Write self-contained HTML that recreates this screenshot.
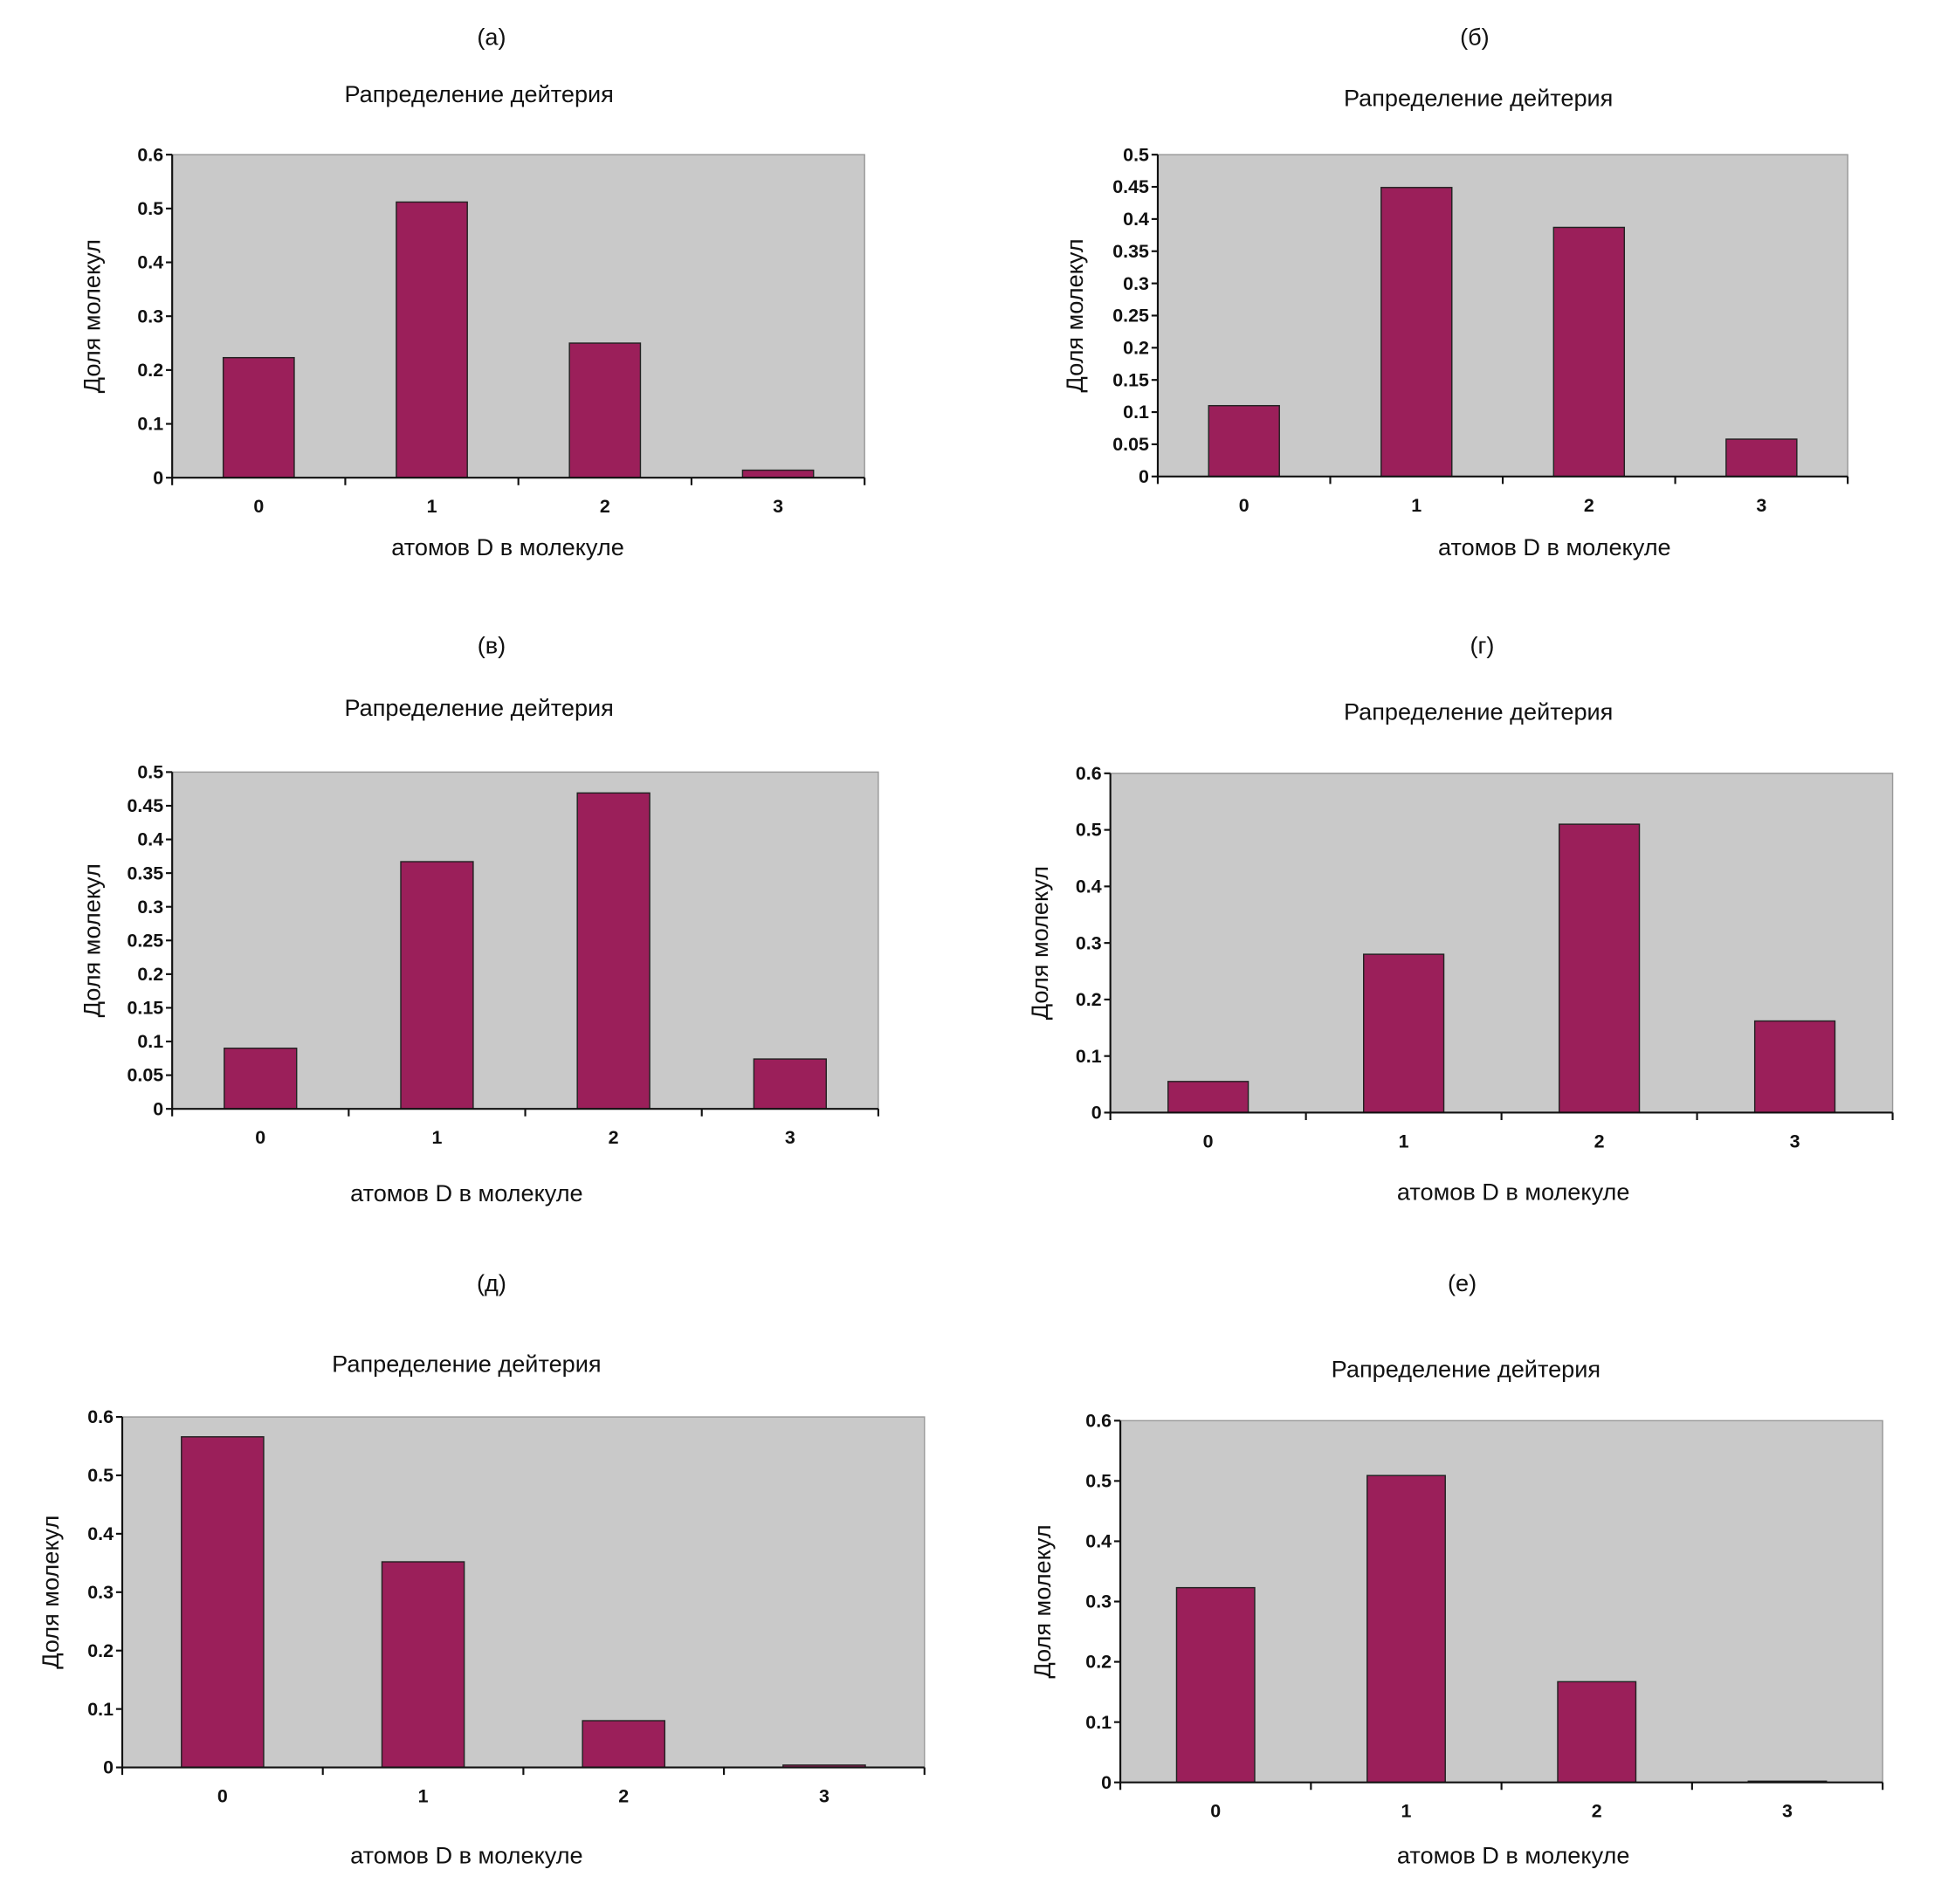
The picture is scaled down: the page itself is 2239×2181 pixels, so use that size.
<!DOCTYPE html>
<html><head><meta charset="utf-8"><style>
html,body{margin:0;padding:0;background:#fff;}
svg{display:block;}
text{font-family:"Liberation Sans",sans-serif;fill:#111;}
.tick{font-size:15px;font-weight:bold;}
.ttl{font-size:19px;}
.lbl{font-size:19px;}
</style></head><body>
<svg id="fig" width="2239" height="2181" viewBox="0 0 1567 1526.5" preserveAspectRatio="none"></svg>
<script>
const categories = ["0","1","2","3"];
const valuesA = [0.223, 0.512, 0.25, 0.014];
const valuesB = [0.11, 0.449, 0.387, 0.058];
const valuesV = [0.09, 0.367, 0.469, 0.074];
const valuesG = [0.055, 0.28, 0.51, 0.162];
const valuesD = [0.566, 0.352, 0.08, 0.004];
const valuesE = [0.323, 0.509, 0.167, 0.002];
const ticks6 = ["0","0.1","0.2","0.3","0.4","0.5","0.6"];
const ticks5 = ["0","0.05","0.1","0.15","0.2","0.25","0.3","0.35","0.4","0.45","0.5"];

const panels = [
 {id:"a",label:"(а)",lx:394,ly:29,tx:384,ty:76,x0:138,x1:693,y0:124,y1:383,vals:valuesA,ticks:ticks6,max:0.6,xlx:407,xly:438,ylx:73},
 {id:"b",label:"(б)",lx:1182,ly:29,tx:1185,ty:79,x0:928,x1:1481,y0:124,y1:382,vals:valuesB,ticks:ticks5,max:0.5,xlx:1246,xly:438,ylx:861},
 {id:"v",label:"(в)",lx:394,ly:517,tx:384,ty:568,x0:138,x1:704,y0:619,y1:889,vals:valuesV,ticks:ticks5,max:0.5,xlx:374,xly:956,ylx:73},
 {id:"g",label:"(г)",lx:1188,ly:517,tx:1185,ty:571,x0:890,x1:1517,y0:620,y1:892,vals:valuesG,ticks:ticks6,max:0.6,xlx:1213,xly:955,ylx:833},
 {id:"d",label:"(д)",lx:394,ly:1028,tx:374,ty:1094,x0:98,x1:741,y0:1136,y1:1417,vals:valuesD,ticks:ticks6,max:0.6,xlx:374,xly:1487,ylx:40},
 {id:"e",label:"(е)",lx:1172,ly:1028,tx:1175,ty:1098,x0:898,x1:1509,y0:1139,y1:1429,vals:valuesE,ticks:ticks6,max:0.6,xlx:1213,xly:1487,ylx:835}
];
const NS="http://www.w3.org/2000/svg";
const svg=document.getElementById('fig');
function mk(tag,attrs,parent,txt){const e=document.createElementNS(NS,tag);for(const k in attrs)e.setAttribute(k,attrs[k]);if(txt!==undefined)e.textContent=txt;parent.appendChild(e);return e;}
panels.forEach(p=>{
 const g=mk('g',{},svg);
 
 
 const yS=v=>p.y1-(v/p.max)*(p.y1-p.y0);
 const cw=(p.x1-p.x0)/categories.length;
 const xS=i=>p.x0+cw*(i+0.5);
 let t=mk('text',{x:p.lx,y:p.ly+7,'text-anchor':'middle',class:'lbl'},g,p.label);
 
 
 t=mk('text',{x:p.tx,y:p.ty+6,'text-anchor':'middle',class:'ttl'},g,'Рапределение дейтерия');
 
 
 const bg=mk('rect',{x:p.x0,y:p.y0,width:p.x1-p.x0,height:p.y1-p.y0,fill:'#c9c9c9',stroke:'#999','stroke-width':1},g);
 
 
 p.vals.forEach((v,i)=>{
  const bw=cw*0.41;
  const r=mk('rect',{x:xS(i)-bw/2,y:yS(v),width:bw,height:p.y1-yS(v),fill:'#9b1f5a',stroke:'#222','stroke-width':1},g);
  
  
  const xl=mk('text',{x:xS(i),y:p.y1+28,'text-anchor':'middle',class:'tick'},g,categories[i]);
  
  
 });
 for(let i=0;i<=categories.length;i++){
  const xx=p.x0+cw*i;
  mk('line',{x1:xx,x2:xx,y1:p.y1,y2:p.y1+6,stroke:'#111','stroke-width':1.5},g);
 }
 p.ticks.forEach(tk=>{
  const yy=yS(parseFloat(tk));
  mk('line',{x1:p.x0-5,x2:p.x0,y1:yy,y2:yy,stroke:'#111','stroke-width':1.5},g);
  const yl=mk('text',{x:p.x0-7,y:yy+5,'text-anchor':'end',class:'tick'},g,tk);
  
  
 });
 mk('line',{x1:p.x0,x2:p.x0,y1:p.y0,y2:p.y1,stroke:'#111','stroke-width':1.5},g);
 mk('line',{x1:p.x0,x2:p.x1,y1:p.y1,y2:p.y1,stroke:'#111','stroke-width':1.5},g);
 t=mk('text',{x:p.xlx,y:p.xly+7,'text-anchor':'middle',class:'lbl'},g,'атомов D в молекуле');
 
 
 const yc=(p.y0+p.y1)/2;
 t=mk('text',{x:p.ylx+7,y:yc,'text-anchor':'middle',class:'lbl',transform:'rotate(-90 '+(p.ylx+7)+' '+yc+')'},g,'Доля молекул');
 
 
});
</script>
</body></html>
